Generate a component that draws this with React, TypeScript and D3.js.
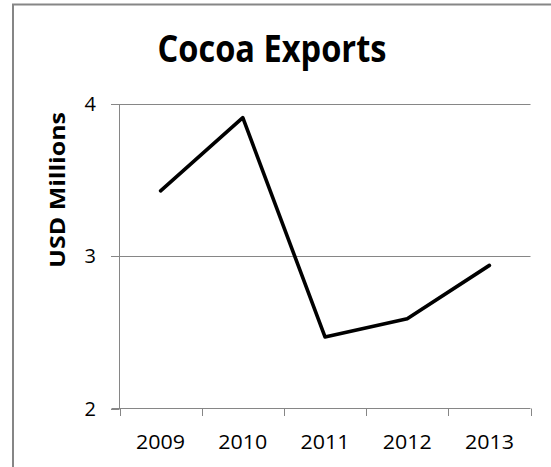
import React from "react";
import * as d3 from "d3";

const years: string[] = ["2009", "2010", "2011", "2012", "2013"];
const exportsUsdMillions: number[] = [3.43, 3.91, 2.47, 2.59, 2.94];
const yTicks: number[] = [2, 3, 4];
const title = "Cocoa Exports";
const yLabel = "USD Millions";

export default function App() {
  const W = 551;
  const H = 467;
  const left = 119.5;
  const right = 530.5;
  const top = 104;
  const bottom = 408.5;

  const x = d3.scaleBand<string>().domain(years).range([left, right]).padding(0);
  const y = d3.scaleLinear().domain([2, 4]).range([bottom, top]);

  const line = d3
    .line<number>()
    .x((_, i) => (x(years[i]) as number) + x.bandwidth() / 2)
    .y((d) => y(d));

  const grid = "#868686";
  const font = "'Open Sans', 'DejaVu Sans', sans-serif";
  const tickEdges = [...years.map((yr) => x(yr) as number), right];

  return (
    <svg
      width={W}
      height={H}
      style={{ position: "absolute", left: 0, top: 0, background: "#fff" }}
    >
      <rect x={0} y={0} width={W} height={H} fill="#fff" />
      {/* outer chart border */}
      <rect x={13} y={4.5} width={W + 20} height={H + 20} fill="none" stroke={grid} strokeWidth={2} />

      <text
        x={272}
        y={62}
        textAnchor="middle"
        fontFamily={font}
        fontWeight={700}
        fontSize={38}
        textLength={229}
        lengthAdjust="spacingAndGlyphs"
        fill="#000"
      >
        {title}
      </text>

      <text
        transform={`translate(65,190) rotate(-90)`}
        textAnchor="middle"
        fontFamily={font}
        fontWeight={700}
        fontSize={22}
        textLength={156}
        lengthAdjust="spacingAndGlyphs"
        fill="#000"
      >
        {yLabel}
      </text>

      {/* gridlines */}
      {yTicks
        .filter((t) => t !== 2)
        .map((t) => (
          <line key={"g" + t} x1={left} x2={right} y1={Math.round(y(t)) + 0.5} y2={Math.round(y(t)) + 0.5} stroke={grid} strokeWidth={1} />
        ))}

      {/* y axis */}
      <line x1={left} x2={left} y1={top} y2={bottom} stroke={grid} strokeWidth={1} />
      {yTicks.map((t) => (
        <g key={"yt" + t}>
          <line x1={111} x2={left} y1={Math.round(y(t)) + 0.5} y2={Math.round(y(t)) + 0.5} stroke={grid} strokeWidth={1} />
          <text
            x={96}
            y={y(t) + 7}
            textAnchor="end"
            fontFamily={font}
            fontSize={20}
            fill="#000"
          >
            {t}
          </text>
        </g>
      ))}

      {/* x axis */}
      <line x1={left - 8} x2={right} y1={bottom} y2={bottom} stroke={grid} strokeWidth={1} />
      {tickEdges.map((xe, i) => (
        <line key={"xt" + i} x1={Math.round(xe) + 0.5} x2={Math.round(xe) + 0.5} y1={bottom} y2={416} stroke={grid} strokeWidth={1} />
      ))}
      {years.map((yr) => (
        <text
          key={yr}
          x={(x(yr) as number) + x.bandwidth() / 2}
          y={448.5}
          textAnchor="middle"
          fontFamily={font}
          fontSize={20}
          textLength={49}
          lengthAdjust="spacingAndGlyphs"
          fill="#000"
        >
          {yr}
        </text>
      ))}

      <path
        d={line(exportsUsdMillions) || ""}
        fill="none"
        stroke="#000"
        strokeWidth={3.6}
        strokeLinejoin="round"
        strokeLinecap="round"
      />
    </svg>
  );
}
